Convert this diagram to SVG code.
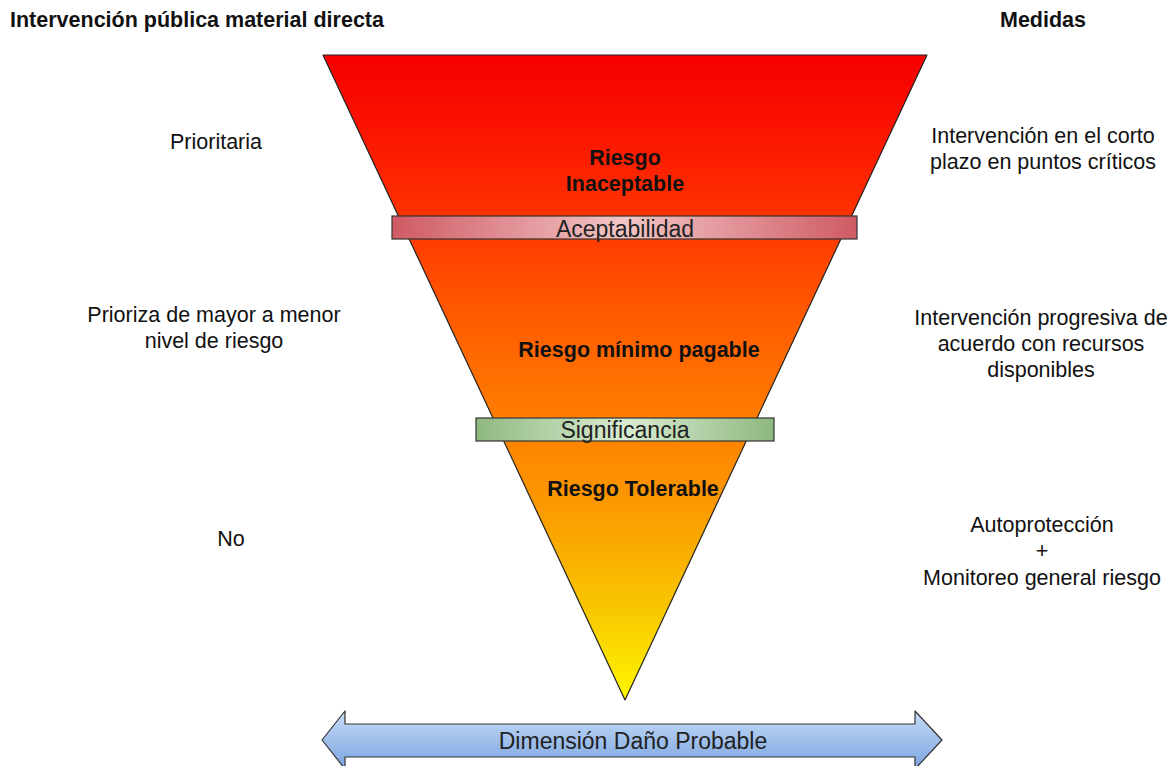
<svg xmlns="http://www.w3.org/2000/svg" width="1175" height="766" viewBox="0 0 1175 766">
  <style>
    .t { font-family: "Liberation Sans", Arial, sans-serif; font-size: 21.5px; fill: #111; }
    .b { font-weight: bold; }
    .m { text-anchor: middle; }
    .bar { stroke: #333; stroke-width: 1.2; }
    .bt { font-family: "Liberation Sans", Arial, sans-serif; font-size: 23px; fill: #222; text-anchor: middle; }
  </style>
  <defs>
    <linearGradient id="risk" x1="0" y1="55" x2="0" y2="700" gradientUnits="userSpaceOnUse">
      <stop offset="0" stop-color="#f60000"/>
      <stop offset="0.1" stop-color="#fa1000"/>
      <stop offset="0.25" stop-color="#ff3300"/>
      <stop offset="0.4" stop-color="#ff5a00"/>
      <stop offset="0.55" stop-color="#ff7a00"/>
      <stop offset="0.7" stop-color="#fb9a00"/>
      <stop offset="0.85" stop-color="#f8c400"/>
      <stop offset="1" stop-color="#fff600"/>
    </linearGradient>
    <linearGradient id="red" x1="0" y1="0" x2="1" y2="0">
      <stop offset="0" stop-color="#cf5a64"/>
      <stop offset="0.5" stop-color="#f2c6c6"/>
      <stop offset="1" stop-color="#cf5a64"/>
    </linearGradient>
    <linearGradient id="green" x1="0" y1="0" x2="1" y2="0">
      <stop offset="0" stop-color="#8fb880"/>
      <stop offset="0.5" stop-color="#d9ecd2"/>
      <stop offset="1" stop-color="#8fb880"/>
    </linearGradient>
    <linearGradient id="blue" x1="0" y1="0" x2="0" y2="1">
      <stop offset="0" stop-color="#c6dcf8"/>
      <stop offset="1" stop-color="#7aa4df"/>
    </linearGradient>
  </defs>

  <!-- column headers -->
  <g id="headers">
    <text class="t b" x="10" y="27">Intervención pública material directa</text>
    <text class="t b" x="1000" y="27">Medidas</text>
  </g>

  <!-- inverted risk triangle -->
  <g id="triangle">
    <polygon points="323,55 927,55 625,700" fill="url(#risk)" stroke="#222" stroke-width="1.2" stroke-linejoin="round"/>
    <text class="t b m" x="625" y="165">Riesgo</text>
    <text class="t b m" x="625" y="191">Inaceptable</text>
    <text class="t b m" x="639" y="357">Riesgo mínimo pagable</text>
    <text class="t b m" x="633" y="496">Riesgo Tolerable</text>
  </g>

  <!-- threshold bars -->
  <g id="aceptabilidad">
    <rect class="bar" x="392" y="216" width="465" height="23" fill="url(#red)"/>
    <text class="bt" x="625" y="237">Aceptabilidad</text>
  </g>
  <g id="significancia">
    <rect class="bar" x="476" y="418" width="298" height="23" fill="url(#green)"/>
    <text class="bt" x="625" y="438">Significancia</text>
  </g>

  <!-- left column -->
  <g id="left-1"><text class="t m" x="216" y="149">Prioritaria</text></g>
  <g id="left-2">
    <text class="t m" x="214" y="322">Prioriza de mayor a menor</text>
    <text class="t m" x="214" y="348">nivel de riesgo</text>
  </g>
  <g id="left-3"><text class="t m" x="231" y="546">No</text></g>

  <!-- right column -->
  <g id="right-1">
    <text class="t m" x="1043" y="143">Intervención en el corto</text>
    <text class="t m" x="1043" y="169">plazo en puntos críticos</text>
  </g>
  <g id="right-2">
    <text class="t m" x="1041" y="325">Intervención progresiva de</text>
    <text class="t m" x="1041" y="351">acuerdo con recursos</text>
    <text class="t m" x="1041" y="377">disponibles</text>
  </g>
  <g id="right-3">
    <text class="t m" x="1042" y="532">Autoprotección</text>
    <text class="t m" x="1042" y="558">+</text>
    <text class="t m" x="1042" y="585">Monitoreo general riesgo</text>
  </g>

  <!-- double-headed axis arrow -->
  <g id="axis">
    <polygon points="322,740 345,711 345,724 915,724 915,711 942,740 915,769 915,757 345,757 345,769" fill="url(#blue)" stroke="#333" stroke-width="1.2" stroke-linejoin="round"/>
    <text class="bt" x="633" y="749">Dimensión Daño Probable</text>
  </g>
</svg>
